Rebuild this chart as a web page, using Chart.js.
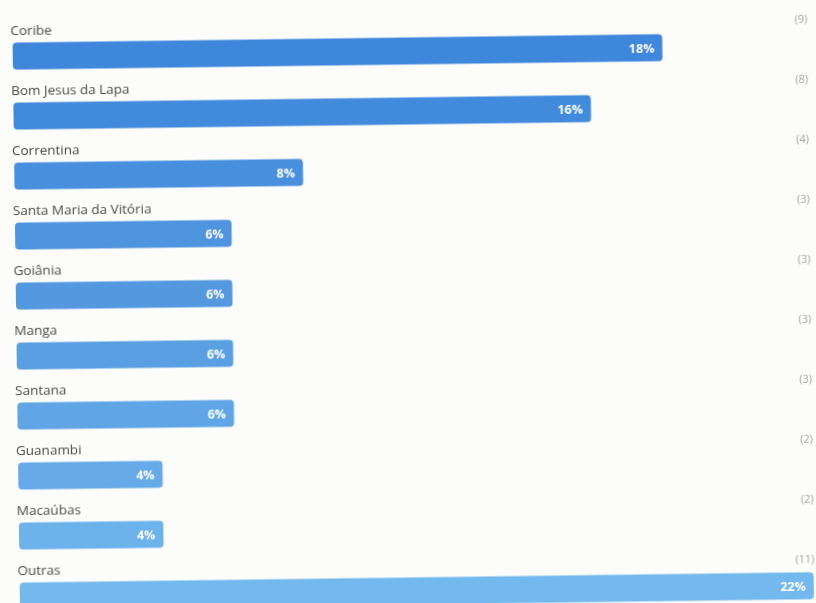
<!DOCTYPE html>
<html>
<head>
<meta charset="utf-8">
<script src="https://cdn.jsdelivr.net/npm/chart.js@4/dist/chart.umd.min.js"></script>
<style>
  html, body { margin: 0; padding: 0; background: #fcfcfb; overflow: hidden; }
  #wrap {
    position: absolute; left: 0; top: 0; width: 816px; height: 640px;
    transform-origin: 408px 301px;
    transform: rotate(-0.75deg);
  }
</style>
</head>
<body>
<div id="wrap"><canvas id="myChart" width="816" height="640"></canvas></div>
<script>
const cities = ["Coribe", "Bom Jesus da Lapa", "Correntina", "Santa Maria da Vitória", "Goiânia",
                "Manga", "Santana", "Guanambi", "Macaúbas", "Outras"];
const percents = [18, 16, 8, 6, 6, 6, 6, 4, 4, 22];
const counts = [9, 8, 4, 3, 3, 3, 3, 2, 2, 11];
const barColors = ["#3e87db", "#428adc", "#488fdd", "#4e94df", "#5499e0",
                   "#5a9fe2", "#60a5e5", "#66abe8", "#6cb2eb", "#73b9ee"];

// city name above each bar, percentage inside its end, count on the right
const rowLabels = {
  id: 'rowLabels',
  afterDatasetsDraw(chart) {
    const ctx = chart.ctx;
    const meta = chart.getDatasetMeta(0);
    ctx.save();
    meta.data.forEach((bar, i) => {
      const top = bar.y - bar.height / 2;
      const left = bar.base;
      ctx.textBaseline = 'middle';

      ctx.font = '13.5px "Open Sans"';
      ctx.fillStyle = '#4a4a4a';
      ctx.textAlign = 'left';
      ctx.fillText(cities[i], left - 2, top - 11);

      ctx.font = '11px "Open Sans"';
      ctx.fillStyle = '#a4a4a4';
      ctx.textAlign = 'right';
      ctx.fillText('(' + counts[i] + ')', 811, top - 13);

      ctx.font = 'bold 12.5px "Open Sans"';
      ctx.fillStyle = '#ffffff';
      ctx.textAlign = 'right';
      ctx.fillText(percents[i] + '%', bar.x - 8, bar.y + 1);
    });
    ctx.restore();
  }
};

new Chart(document.getElementById('myChart'), {
  type: 'bar',
  data: {
    labels: cities,
    datasets: [{
      data: percents,
      backgroundColor: barColors,
      borderWidth: 0,
      borderRadius: 4,
      borderSkipped: false,
      categoryPercentage: 1,
      barPercentage: 0.45
    }]
  },
  options: {
    indexAxis: 'y',
    responsive: false,
    animation: false,
    layout: { padding: { left: 16, right: 6, top: 21, bottom: 19 } },
    scales: {
      x: { min: 0, max: 22, display: false },
      y: { display: false }
    },
    plugins: {
      legend: { display: false },
      tooltip: { enabled: false }
    }
  },
  plugins: [rowLabels]
});
</script>
</body>
</html>
